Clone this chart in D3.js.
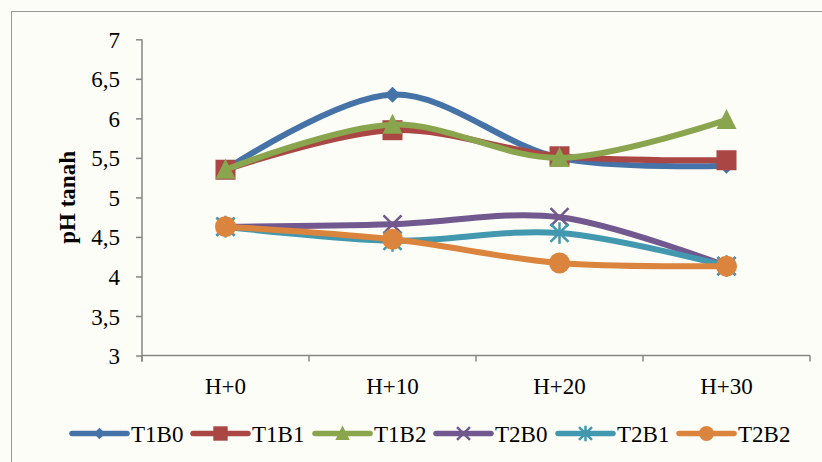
<!DOCTYPE html>
<html>
<head>
<meta charset="utf-8">
<script src="https://cdn.jsdelivr.net/npm/d3@7"></script>
<style>
  html, body { margin: 0; padding: 0; background: #fcfdf7; }
  svg { display: block; }
  text { font-family: "Liberation Serif", "DejaVu Serif", serif; fill: #000; }
</style>
</head>
<body>
<svg id="chart" width="822" height="462"></svg>
<script>
// Soil pH by treatment over the sampling days
const categories = ["H+0", "H+10", "H+20", "H+30"];
const seriesNames = ["T1B0", "T1B1", "T1B2", "T2B0", "T2B1", "T2B2"];
const T1B0 = [5.35, 6.30, 5.50, 5.40];
const T1B1 = [5.35, 5.85, 5.52, 5.47];
const T1B2 = [5.35, 5.92, 5.50, 5.98];
const T2B0 = [4.63, 4.66, 4.75, 4.13];
const T2B1 = [4.63, 4.45, 4.55, 4.13];
const T2B2 = [4.63, 4.47, 4.17, 4.13];
const yTicks = [3, 3.5, 4, 4.5, 5, 5.5, 6, 6.5, 7];
const yTitle = "pH tanah";

const seriesValues = [T1B0, T1B1, T1B2, T2B0, T2B1, T2B2];
const colors = ["#4572a7", "#aa4643", "#89a54e", "#71588f", "#4198af", "#db843d"];
const markers = ["diamond", "square", "triangle", "x", "star", "circle"];

const svg = d3.select("#chart");

// chart area frame
svg.append("line").attr("x1", 11).attr("x2", 822).attr("y1", 11.5).attr("y2", 11.5)
  .attr("stroke", "#9a9a9a").attr("stroke-width", 1);
svg.append("line").attr("x1", 11.5).attr("x2", 11.5).attr("y1", 11).attr("y2", 462)
  .attr("stroke", "#9a9a9a").attr("stroke-width", 1);

const plotLeft = 142, plotRight = 810, plotTop = 39.3, plotBottom = 355.5;

const x = d3.scaleBand().domain(categories).range([plotLeft, plotRight]);
const y = d3.scaleLinear().domain([3, 7]).range([plotBottom, plotTop]);

// y axis
const yAxis = svg.append("g").attr("transform", `translate(${plotLeft},0)`)
  .call(d3.axisLeft(y).tickValues(yTicks).tickSize(6).tickPadding(16)
    .tickFormat(d => String(d).replace(".", ",")));
yAxis.selectAll("path, line").attr("stroke", "#868686").attr("stroke-width", 1.5);
yAxis.select(".domain").attr("d", `M0,${plotTop}V${plotBottom + 6}`);
yAxis.selectAll("text").style("font-size", "23px").attr("dy", "0.35em");

// x axis with ticks between categories
const xAxisG = svg.append("g").attr("transform", `translate(0,${plotBottom})`);
xAxisG.append("line").attr("x1", plotLeft).attr("x2", plotRight).attr("stroke", "#868686").attr("stroke-width", 1.5);
const boundaries = categories.map(c => x(c)).concat([x(categories[categories.length - 1]) + x.bandwidth()]);
xAxisG.selectAll("line.tick").data(boundaries).join("line").attr("class", "tick")
  .attr("x1", d => d).attr("x2", d => d).attr("y1", 0).attr("y2", 6)
  .attr("stroke", "#868686").attr("stroke-width", 1.5);
xAxisG.selectAll("text").data(categories).join("text")
  .attr("x", d => x(d) + x.bandwidth() / 2).attr("y", 38)
  .attr("text-anchor", "middle").style("font-size", "23px").text(d => d);

// y axis title
svg.append("text")
  .attr("transform", `translate(75,${(plotTop + plotBottom) / 2}) rotate(-90)`)
  .attr("text-anchor", "middle")
  .style("font-size", "23px").style("font-weight", "bold")
  .text(yTitle);

function drawMarker(g, type, color, s) {
  const h = s / 2;
  if (type === "diamond") {
    g.append("path").attr("d", `M0,${-h}L${h},0L0,${h}L${-h},0Z`).attr("fill", color);
  } else if (type === "square") {
    g.append("rect").attr("x", -h).attr("y", -h).attr("width", s).attr("height", s).attr("fill", color);
  } else if (type === "triangle") {
    g.append("path").attr("d", `M0,${-h * 1.1}L${h},${h * 0.9}L${-h},${h * 0.9}Z`).attr("fill", color);
  } else if (type === "x") {
    g.append("path").attr("d", `M${-h},${-h}L${h},${h}M${h},${-h}L${-h},${h}`)
      .attr("stroke", color).attr("stroke-width", 2.5);
  } else if (type === "star") {
    g.append("path").attr("d", `M${-h},${-h}L${h},${h}M${h},${-h}L${-h},${h}M0,${-h * 1.2}V${h * 1.2}`)
      .attr("stroke", color).attr("stroke-width", 2.5);
  } else if (type === "circle") {
    g.append("circle").attr("r", h).attr("fill", color);
  }
}

const markerSizes = { diamond: 16, square: 20, triangle: 20, x: 18, star: 18, circle: 21 };

const line = d3.line()
  .x((d, i) => x(categories[i]) + x.bandwidth() / 2)
  .y(d => y(d))
  .curve(d3.curveCatmullRom.alpha(0.5));

seriesValues.forEach((vals, si) => {
  const g = svg.append("g");
  g.append("path").datum(vals).attr("d", line).attr("fill", "none")
    .attr("stroke", colors[si]).attr("stroke-width", 6).attr("stroke-linecap", "round");
  vals.forEach((v, i) => {
    const mg = g.append("g")
      .attr("transform", `translate(${x(categories[i]) + x.bandwidth() / 2},${y(v)})`);
    drawMarker(mg, markers[si], colors[si], markerSizes[markers[si]]);
  });
});

// legend
const legendX = [72, 193, 315, 436, 558, 679];
const legendY = 433.5;
const lg = svg.append("g");
seriesNames.forEach((name, i) => {
  const g = lg.append("g").attr("transform", `translate(${legendX[i]},${legendY})`);
  g.append("line").attr("x1", 0).attr("x2", 55).attr("stroke", colors[i])
    .attr("stroke-width", 5.5).attr("stroke-linecap", "round");
  const mg = g.append("g").attr("transform", "translate(27.5,0)");
  drawMarker(mg, markers[i], colors[i], markerSizes[markers[i]] * 0.72);
  g.append("text").attr("x", 59).attr("y", 0).attr("dy", "0.35em")
    .style("font-size", "23px").text(name);
});
</script>
</body>
</html>
